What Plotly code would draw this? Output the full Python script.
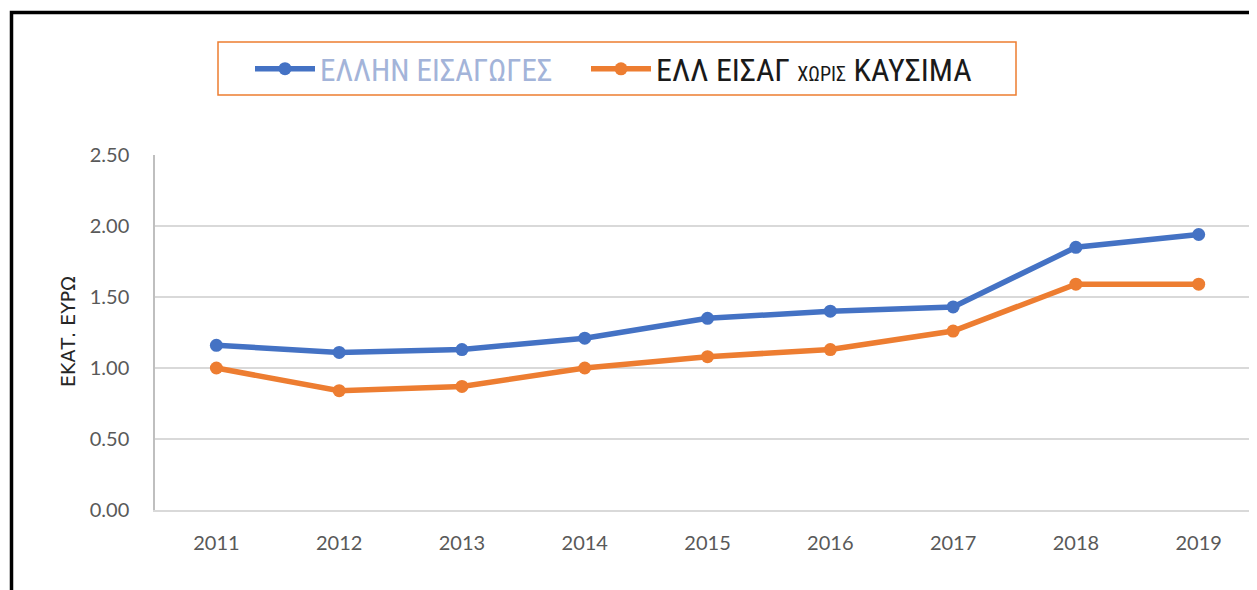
import plotly.graph_objects as go

years = ["2011", "2012", "2013", "2014", "2015", "2016", "2017", "2018", "2019"]
imports_total = [1.16, 1.11, 1.13, 1.21, 1.35, 1.40, 1.43, 1.85, 1.94]
imports_no_fuel = [1.00, 0.84, 0.87, 1.00, 1.08, 1.13, 1.26, 1.59, 1.59]
y_ticks = [0.0, 0.5, 1.0, 1.5, 2.0, 2.5]
name_total = "ΕΛΛΗΝ ΕΙΣΑΓΩΓΕΣ"
name_no_fuel = "ΕΛΛ ΕΙΣΑΓ ΧΩΡΙΣ ΚΑΥΣΙΜΑ"
y_title = "ΕΚΑΤ. ΕΥΡΩ"

BLUE = "#4472C4"
ORANGE = "#ED7D31"

OFF = 8  # page body margin
W, H = 1257 - OFF, 590 - OFF
L, R, T, B = 155 - OFF, 0, 155 - OFF, 80
pw, ph = W - L - R, H - T - B


def px(x):  # screen pixel -> paper x
    return (x - OFF - L) / pw


def py(y):  # screen pixel -> paper y
    return (H - B - (y - OFF)) / ph


fig = go.Figure()
fig.add_trace(go.Scatter(
    x=years, y=imports_total, mode="lines+markers",
    name=f"<span style='color:#A3B4D9'>{name_total}</span>",
    line=dict(color=BLUE, width=5.5), marker=dict(color=BLUE, size=13),
    legend="legend",
))
parts = name_no_fuel.split(" ")
name2 = f"{parts[0]} {parts[1]} <span style='font-size:20px'>{parts[2]}</span> {parts[3]}"
fig.add_trace(go.Scatter(
    x=years, y=imports_no_fuel, mode="lines+markers",
    name=name2,
    line=dict(color=ORANGE, width=5.5), marker=dict(color=ORANGE, size=13),
    legend="legend2",
))

legend_family = "'Liberation Sans Narrow', 'Roboto Condensed', Roboto, sans-serif"

fig.update_layout(
    width=W, height=H,
    margin=dict(l=L, r=R, t=T, b=B),
    paper_bgcolor="white", plot_bgcolor="white",
    font=dict(family="Lato, 'Open Sans', sans-serif", color="#595959", size=20),
    showlegend=True,
    legend=dict(
        orientation="h", x=px(250), xanchor="left", y=py(69), yanchor="middle",
        borderwidth=0, bgcolor="rgba(0,0,0,0)",
        font=dict(family=legend_family, size=31, color="#1a1a1a"), itemwidth=60,
    ),
    legend2=dict(
        orientation="h", x=px(586), xanchor="left", y=py(69), yanchor="middle",
        borderwidth=0, bgcolor="rgba(0,0,0,0)",
        font=dict(family=legend_family, size=32, color="#1a1a1a"), itemwidth=60,
    ),
    xaxis=dict(
        type="category", range=[-0.5, 8.475], showgrid=False,
        showline=True, linecolor="#D9D9D9", linewidth=1.5,
        ticks="", tickfont=dict(size=20, color="#595959"), zeroline=False,
        ticklabelstandoff=14,
    ),
    yaxis=dict(
        range=[0, 2.5], tickvals=y_ticks, tickformat=".2f",
        showgrid=True, gridcolor="#D9D9D9", gridwidth=1.5,
        showline=True, linecolor="#BFBFBF", linewidth=1.5,
        zeroline=False, ticks="", ticklabelstandoff=20,
        tickfont=dict(size=20, color="#595959"),
    ),
)

fig.add_annotation(
    text=y_title, xref="paper", yref="paper", x=px(68), y=py(332),
    textangle=-90, showarrow=False,
    font=dict(family="'DejaVu Sans', sans-serif", size=19, color="#262626"),
    xanchor="center", yanchor="middle",
)

# legend frame
fig.add_shape(type="rect", xref="paper", yref="paper",
              x0=px(218), x1=px(1016), y0=py(95), y1=py(42),
              line=dict(color="#ED7D31", width=1.5), fillcolor="rgba(0,0,0,0)")

# black frame on top and left edges
fig.add_shape(type="path", xref="paper", yref="paper",
              path=f"M {px(11.5)} {py(600)} L {px(11.5)} {py(12.5)} L {px(1270)} {py(12.5)}",
              line=dict(color="black", width=3.5))

fig.write_html("out.html")
